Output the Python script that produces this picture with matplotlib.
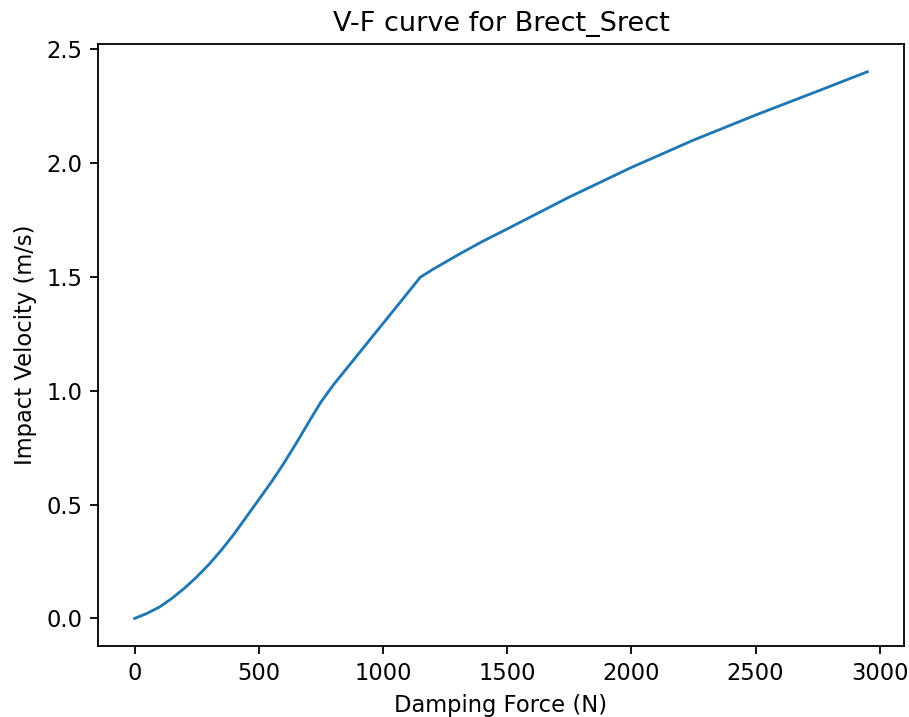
import matplotlib.pyplot as plt

# damping force (N) vs impact velocity (m/s)
force = [0, 50, 100, 150, 200, 250, 300, 350, 400, 450, 500, 550, 600, 650,
         700, 750, 800, 900, 1000, 1100, 1150, 1200, 1300, 1400, 1500, 1750,
         2000, 2250, 2500, 2750, 2950]
velocity = [0.0, 0.022, 0.05, 0.088, 0.132, 0.182, 0.238, 0.301, 0.37,
            0.446, 0.522, 0.598, 0.68, 0.768, 0.86, 0.95, 1.025, 1.16,
            1.295, 1.43, 1.498, 1.532, 1.595, 1.655, 1.71, 1.85, 1.98,
            2.10, 2.21, 2.315, 2.40]

DPI = 162.5
fig = plt.figure(figsize=(910 / DPI, 717 / DPI), dpi=DPI)
ax = fig.add_axes([0.1077, 0.0994, 0.8857, 0.8386])

ax.plot(force, velocity, linewidth=1.25)

ax.set_title('V-F curve for Brect_Srect')
ax.set_xlabel('Damping Force (N)')
ax.set_ylabel('Impact Velocity (m/s)')

fig.savefig('out.png', dpi=DPI)
